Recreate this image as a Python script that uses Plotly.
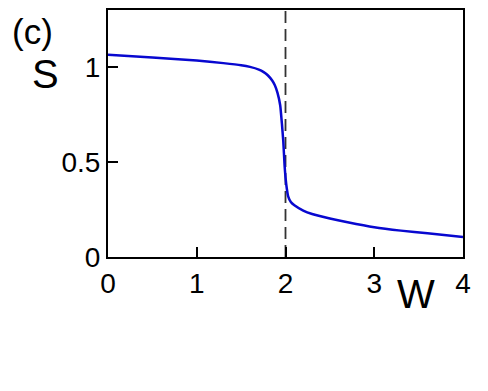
import plotly.graph_objects as go

W = [0.0, 0.5, 1.0, 1.3, 1.5, 1.6, 1.7, 1.75, 1.8, 1.85, 1.88, 1.91, 1.94, 1.96, 1.975,
     1.99, 2.0, 2.015, 2.03, 2.06, 2.1, 2.2, 2.3, 2.5, 2.7, 3.0, 3.3, 3.6, 4.0]
S = [1.066, 1.052, 1.036, 1.022, 1.011, 1.002, 0.988, 0.976, 0.958, 0.930, 0.905, 0.865, 0.80,
     0.70, 0.61, 0.48, 0.42, 0.36, 0.32, 0.29, 0.273, 0.245, 0.227, 0.203, 0.183, 0.157,
     0.139, 0.125, 0.106]
Wc = 2.0
x_ticks = [0, 1, 2, 3, 4]
y_ticks = [0, 0.5, 1]
y_tick_text = ["0", "0.5", "1"]

fig = go.Figure()
fig.add_trace(go.Scatter(x=[Wc, Wc], y=[0, 1.302], mode="lines",
                         line=dict(color="#333333", width=1.8, dash="12px,6px"),
                         showlegend=False, hoverinfo="skip"))
fig.add_trace(go.Scatter(x=W, y=S, mode="lines",
                         line=dict(color="#0808D0", width=2.5, shape="spline", smoothing=0.5),
                         showlegend=False))

font = "Liberation Sans, Arial, sans-serif"
fig.update_layout(
    width=480, height=383,
    margin=dict(l=100, r=25, t=0, b=134),
    paper_bgcolor="white", plot_bgcolor="white",
    font=dict(family=font, color="black", size=28),
    xaxis=dict(range=[0, 4], tickvals=x_ticks, ticks="inside", ticklen=10, tickwidth=2,
               tickcolor="black", showline=True, linecolor="black", linewidth=2,
               mirror=True, showgrid=False, zeroline=False,
               tickfont=dict(size=28)),
    yaxis=dict(range=[0, 1.302], tickvals=y_ticks, ticktext=y_tick_text, ticks="inside",
               ticklen=10, tickwidth=2, tickcolor="black", showline=True,
               linecolor="black", linewidth=2, mirror=True, showgrid=False,
               zeroline=False, tickfont=dict(size=28)),
    annotations=[
        dict(text="W", x=0.868, y=-0.148, xref="paper", yref="paper", showarrow=False,
             font=dict(size=40), xanchor="center", yanchor="middle"),
        dict(text="S", x=-0.175, y=0.74, xref="paper", yref="paper", showarrow=False,
             font=dict(size=40), xanchor="center", yanchor="middle"),
        dict(text="(c)", x=-0.276, y=1.0, xref="paper", yref="paper", showarrow=False,
             font=dict(size=35), xanchor="left", yanchor="top"),
    ],
)
fig.write_html("out.html")
